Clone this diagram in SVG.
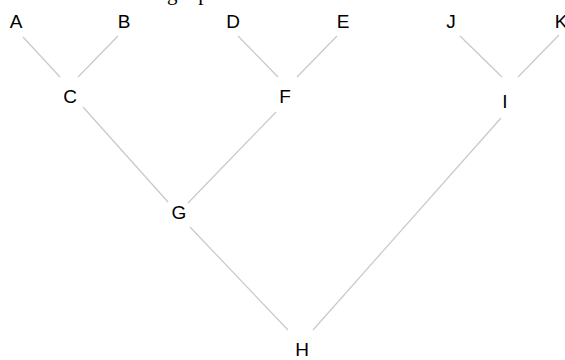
<svg xmlns="http://www.w3.org/2000/svg" width="565" height="360" viewBox="0 0 565 360">
<style>
.e{stroke:#c8c8c8;stroke-width:1.2;fill:none}
.n{font-family:"Liberation Sans",Arial,sans-serif;font-size:19px;fill:#000;text-anchor:middle}
.t{font-family:"Liberation Serif","Times New Roman",serif;font-size:21px;fill:#000}
</style>
<rect width="565" height="360" fill="#fff"/>
<text class="t" x="167" y="-0.5" letter-spacing="1.5">graph</text>
<g id="edges">
<line class="e" x1="23" y1="37" x2="60" y2="77"/>
<line class="e" x1="118" y1="36" x2="78" y2="77"/>
<line class="e" x1="238" y1="36" x2="278" y2="77"/>
<line class="e" x1="337" y1="36" x2="297" y2="77"/>
<line class="e" x1="460" y1="36" x2="502" y2="77"/>
<line class="e" x1="559" y1="35" x2="518" y2="77"/>
<line class="e" x1="83" y1="107" x2="168" y2="202"/>
<line class="e" x1="276" y1="112" x2="188" y2="203"/>
<line class="e" x1="190" y1="227" x2="288" y2="330"/>
<line class="e" x1="501" y1="118" x2="313" y2="330"/>
</g>
<g id="A"><text class="n" x="16" y="28">A</text></g>
<g id="B"><text class="n" x="124" y="28">B</text></g>
<g id="C"><text class="n" x="70" y="103">C</text></g>
<g id="D"><text class="n" x="233" y="28">D</text></g>
<g id="E"><text class="n" x="343" y="28">E</text></g>
<g id="F"><text class="n" x="285" y="103">F</text></g>
<g id="J"><text class="n" x="451" y="28">J</text></g>
<g id="K"><text class="n" x="561" y="28">K</text></g>
<g id="I"><text class="n" x="505" y="108">I</text></g>
<g id="G"><text class="n" x="179" y="219">G</text></g>
<g id="H"><text class="n" x="302" y="356">H</text></g>
</svg>
